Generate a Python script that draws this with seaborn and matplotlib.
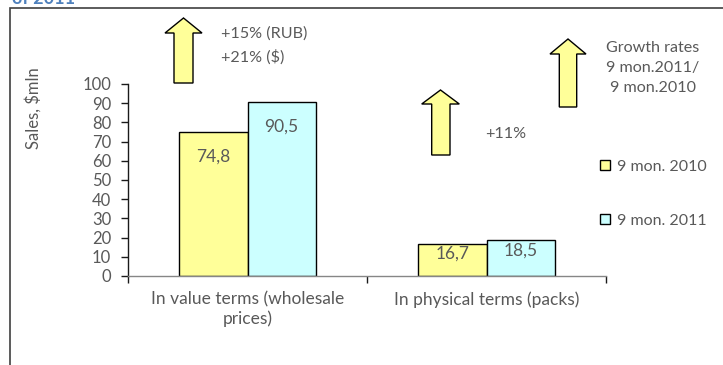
import matplotlib
matplotlib.use("Agg")
import matplotlib.pyplot as plt
from matplotlib.patches import Polygon, Rectangle, Patch
import seaborn as sns
import pandas as pd

# Data
categories = ["In value terms (wholesale\nprices)", "In physical terms (packs)"]
periods = ["9 mon. 2010", "9 mon. 2011"]
sales_2010 = [74.8, 16.7]
sales_2011 = [90.5, 18.5]
value_labels_2010 = ["74,8", "16,7"]
value_labels_2011 = ["90,5", "18,5"]
growth_value = ["+15% (RUB)", "+21% ($)"]
growth_physical = "+11%"
growth_note = "Growth rates\n9 mon.2011/\n9 mon.2010"
y_ticks = list(range(0, 101, 10))

colors = ["#FFFF99", "#CCFFFF"]
text_gray = "#595959"

df = pd.DataFrame({
    "category": categories * 2,
    "period": [periods[0]] * 2 + [periods[1]] * 2,
    "sales": sales_2010 + sales_2011,
})

sns.set_theme(style="white")
plt.rcParams["font.family"] = ["Lato", "DejaVu Sans"]

W, H = 723, 365
fig = plt.figure(figsize=(W / 100, H / 100), dpi=100)


def fx(px):
    return px / W


def fy(py):
    return 1 - py / H


ax = fig.add_axes([fx(128), fy(276), fx(606) - fx(128), fy(84) - fy(276)])

sns.barplot(data=df, x="category", y="sales", hue="period", order=categories,
            hue_order=periods, palette=colors, width=0.57, gap=0,
            edgecolor="black", linewidth=1.0, saturation=1, ax=ax, legend=False)

ax.set_xlim(-0.5, 1.5)
ax.set_ylim(0, 100)
ax.set_yticks(y_ticks)
ax.set_ylabel("")
ax.set_xlabel("")

for s in ["top", "right"]:
    ax.spines[s].set_visible(False)
ax.spines["left"].set_color("#1a1a1a")
ax.spines["left"].set_linewidth(1.0)
ax.spines["bottom"].set_color("#868686")
ax.spines["bottom"].set_linewidth(1.0)

ax.tick_params(axis="y", which="major", direction="out", length=5, width=1,
               color="#1a1a1a", labelsize=12, labelcolor=text_gray, pad=7, left=True)
ax.set_xticks([-0.5, 0.5, 1.5], minor=True)
ax.tick_params(axis="x", which="minor", direction="out", length=5, width=1,
               color="#1a1a1a", bottom=True)
ax.tick_params(axis="x", which="major", length=0, labelsize=12.5,
               labelcolor=text_gray, pad=11)
for lbl in ax.get_xticklabels():
    lbl.set_linespacing(1.25)

# Value labels inside bar tops
all_labels = [value_labels_2010, value_labels_2011]
for cont, labels in zip(ax.containers, all_labels):
    for bar, lab in zip(cont, labels):
        val = bar.get_height()
        off = -17.5 if val > 50 else -7
        ax.annotate(lab, (bar.get_x() + bar.get_width() / 2, val),
                    xytext=(0, off), textcoords="offset points",
                    ha="center", va="center", fontsize=12.5, color=text_gray)

# Outer chart frame
fig.add_artist(Rectangle((fx(10), fy(400)), fx(800), fy(8) - fy(400),
                         transform=fig.transFigure, fill=False,
                         edgecolor="#404040", linewidth=1.2, clip_on=False))

# Heading above the frame
fig.text(fx(12), fy(4), "of 2011", fontsize=13, fontweight="bold",
         color="#4F81BD", ha="left", va="baseline")

# Y axis title
fig.text(fx(33), fy(108), "Sales, $mln", rotation=90, fontsize=12,
         color=text_gray, ha="center", va="center")


# Block arrows
def block_arrow(x0, x1, sx0, sx1, ytip, yhead, ybot):
    xm = (x0 + x1) / 2
    pts = [(xm, ytip), (x1, yhead), (sx1, yhead), (sx1, ybot),
           (sx0, ybot), (sx0, yhead), (x0, yhead)]
    pts = [(fx(a), fy(b)) for a, b in pts]
    fig.add_artist(Polygon(pts, closed=True, transform=fig.transFigure,
                           facecolor="#FFFF99", edgecolor="black",
                           linewidth=1.0, joinstyle="miter"))


block_arrow(165, 202, 174, 193, 18, 33, 83)
block_arrow(421.7, 459.3, 431.7, 450, 90, 104, 155)
block_arrow(550, 586, 559.3, 576.7, 39, 54, 107)

fig.text(fx(221), fy(34), growth_value[0], fontsize=11.6, color=text_gray,
         ha="left", va="center")
fig.text(fx(221), fy(57), growth_value[1], fontsize=11.6, color=text_gray,
         ha="left", va="center")
fig.text(fx(485), fy(134), growth_physical, fontsize=11.6, color=text_gray,
         ha="left", va="center")
fig.text(fx(653), fy(68), growth_note, fontsize=11.6, color=text_gray,
         ha="center", va="center", linespacing=1.55)

# Legend
handles = [Patch(facecolor=c, edgecolor="black", linewidth=1.0) for c in colors]
leg = fig.legend(handles, periods, loc="upper left",
                 bbox_to_anchor=(fx(600), fy(160)), frameon=False,
                 handlelength=0.6, handleheight=0.6, handletextpad=0.45,
                 labelspacing=2.5, fontsize=11.5, borderaxespad=0, borderpad=0)
for t in leg.get_texts():
    t.set_color(text_gray)

fig.savefig("out.png", dpi=100)
